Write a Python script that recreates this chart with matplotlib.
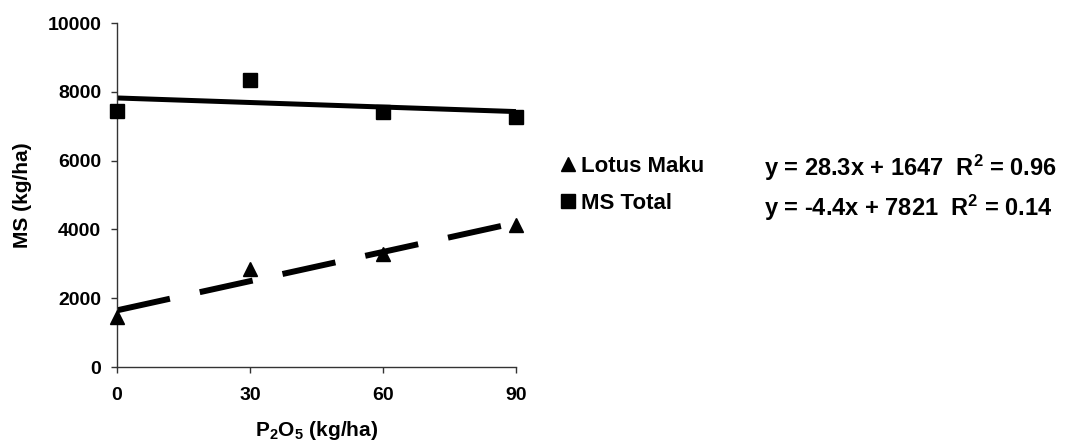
import numpy as np
import matplotlib
matplotlib.use("Agg")
import matplotlib.pyplot as plt

plt.rcParams['font.family'] = ['Liberation Sans', 'DejaVu Sans']
plt.rcParams['font.weight'] = 'bold'
plt.rcParams['mathtext.default'] = 'regular'
plt.rcParams['lines.scale_dashes'] = False

# P2O5 dose (kg/ha) and dry matter (kg/ha)
p2o5 = [0, 30, 60, 90]
lotus = [1450, 2840, 3290, 4120]
total = [7430, 8340, 7420, 7280]

# trend lines as printed on the chart
lotus_fit = (28.3, 1647, 0.96)
total_fit = (-4.4, 7821, 0.14)

series_names = ["Lotus Maku", "MS Total"]
x_ticks = [0, 30, 60, 90]
y_ticks = [0, 2000, 4000, 6000, 8000, 10000]

fig = plt.figure(figsize=(10.78, 4.45), dpi=100)
ax = fig.add_axes([117/1078, 1 - 367/445, (516 - 117)/1078, (367 - 23)/445])

xx = np.array([x_ticks[0], x_ticks[-1]])
ax.plot(xx, lotus_fit[0]*xx + lotus_fit[1], color='black', lw=4.3,
        linestyle=(0, (39, 22)), solid_capstyle='butt', dash_capstyle='butt', zorder=2)
ax.plot(xx, total_fit[0]*xx + total_fit[1], color='black', lw=3.6, zorder=2)

ax.plot(p2o5, lotus, linestyle='none', marker='^', ms=10.5, color='black',
        clip_on=False, zorder=3, label=series_names[0])
ax.plot(p2o5, total, linestyle='none', marker='s', ms=9.5, color='black',
        clip_on=False, zorder=3, label=series_names[1])

ax.set_xlim(0, 90)
ax.set_ylim(0, 10000)
ax.set_xticks(x_ticks)
ax.set_yticks(y_ticks)
for s in ['top', 'right']:
    ax.spines[s].set_visible(False)
for s in ['left', 'bottom']:
    ax.spines[s].set_linewidth(1.0)
    ax.spines[s].set_color('#333333')
ax.tick_params(axis='both', direction='out', length=4.3, width=1.0, color='#333333',
               labelsize=14)
ax.tick_params(axis='y', pad=7)
ax.tick_params(axis='x', pad=10)
for lab in ax.get_xticklabels() + ax.get_yticklabels():
    lab.set_fontweight('bold')

ax.set_xlabel('P$_2$O$_5$ (kg/ha)', fontsize=15, fontweight='bold', labelpad=11)
ax.set_ylabel('MS (kg/ha)', fontsize=15, fontweight='bold')
ax.yaxis.set_label_coords(-(117 - 32)/399, 0.5)

leg = ax.legend(loc='upper left', bbox_to_anchor=(561/1078, 1 - 156/445),
                bbox_transform=fig.transFigure, frameon=False, fontsize=16,
                handlelength=0.6, handletextpad=0.3, labelspacing=0.72,
                borderpad=0, borderaxespad=0, markerscale=1.0)
for t in leg.get_texts():
    t.set_fontweight('bold')

for fit, base in [(lotus_fit, 176), (total_fit, 216)]:
    txt = 'y = %sx + %d  R$^2$ = %.2f' % (('%.1f' % fit[0]), fit[1], fit[2])
    fig.text(764/1078, 1 - base/445, txt, fontsize=17, fontweight='bold',
             ha='left', va='baseline')

fig.savefig('out.png', dpi=100)
